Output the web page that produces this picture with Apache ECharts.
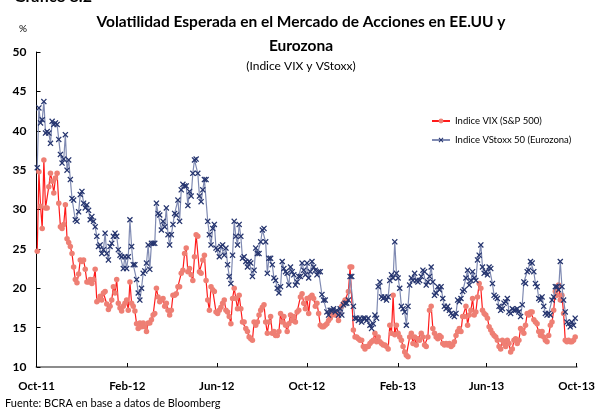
<!DOCTYPE html>
<html>
<head>
<meta charset="utf-8">
<script src="https://cdn.jsdelivr.net/npm/echarts@6/dist/echarts.min.js"></script>
<style>
  html, body { margin: 0; padding: 0; background: #fff; }
  #chart { width: 598px; height: 412px; }
</style>
</head>
<body>
<div id="chart"></div>
<script>
// readings taken off the chart every ~2.24 calendar days
const firstReading = Date.UTC(2011, 9, 2);
const readingStepDays = 2.24;

const seriesNames = ['Indice VIX (S&P 500)', 'Indice VStoxx 50 (Eurozona)'];

const vixValues = [
  24.7, 34.8, 30.4, 27.6, 36.3, 30.2, 30.2, 32.9, 34.6, 33.6,
  32.1, 34.0, 34.6, 30.8, 27.8, 27.6, 28.1, 30.6, 26.3, 25.8,
  25.3, 24.4, 22.7, 21.1, 20.7, 21.8, 23.6, 23.4, 23.6, 22.4,
  20.8, 20.8, 21.1, 20.6, 21.1, 22.4, 18.3, 18.5, 19.0, 18.5,
  19.4, 19.6, 18.0, 17.3, 17.7, 18.5, 20.2, 19.4, 21.1, 18.1,
  17.5, 17.1, 17.7, 18.1, 18.5, 17.2, 20.8, 18.1, 17.7, 17.1,
  15.5, 14.9, 15.6, 15.1, 15.6, 15.1, 14.5, 15.6, 15.6, 16.0,
  16.6, 16.8, 20.0, 18.9, 18.3, 18.5, 18.7, 17.7, 18.1, 17.2,
  16.6, 17.2, 19.1, 19.1, 19.3, 20.2, 20.2, 21.9, 22.3, 24.4,
  25.1, 22.1, 22.5, 21.7, 21.0, 24.0, 26.8, 26.6, 22.1, 21.9,
  23.6, 24.2, 21.0, 18.5, 17.2, 20.2, 19.8, 19.6, 17.0, 16.8,
  17.2, 17.6, 18.1, 18.5, 17.2, 17.0, 16.4, 15.5, 18.7, 20.0,
  18.7, 17.4, 19.1, 17.4, 15.7, 15.7, 14.9, 14.5, 13.8, 13.6,
  13.4, 15.7, 15.3, 15.7, 16.6, 17.2, 17.6, 17.9, 15.7, 14.3,
  15.7, 16.4, 14.3, 14.5, 14.0, 14.0, 14.5, 16.8, 15.7, 16.4,
  15.3, 14.5, 15.5, 16.6, 15.9, 16.4, 15.7, 17.0, 17.2, 18.9,
  19.3, 18.1, 17.4, 18.7, 16.8, 18.9, 19.1, 18.7, 17.7, 18.1,
  16.8, 15.3, 15.1, 15.1, 15.3, 15.5, 15.9, 16.2, 16.6, 16.8,
  16.6, 16.8, 15.9, 17.0, 17.7, 18.1, 18.5, 18.5, 19.6, 22.7,
  22.7, 14.7, 13.8, 13.8, 13.6, 13.4, 13.4, 12.6, 12.3, 12.6,
  12.6, 13.0, 13.2, 13.4, 14.3, 13.2, 13.8, 13.2, 13.0, 12.8,
  12.8, 12.6, 12.3, 15.3, 14.3, 19.1, 14.1, 15.3, 14.3, 13.8,
  13.4, 12.6, 11.9, 11.5, 11.3, 13.8, 14.3, 13.0, 13.8, 12.8,
  13.6, 13.4, 14.3, 13.8, 12.8, 12.6, 13.8, 17.2, 17.7, 14.9,
  14.3, 13.8, 13.6, 14.0, 13.8, 13.0, 12.8, 13.0, 12.8, 13.0,
  12.6, 12.8, 13.2, 14.0, 14.5, 14.9, 14.5, 16.4, 16.4, 17.7,
  15.3, 16.6, 17.2, 18.7, 16.6, 17.0, 18.9, 20.6, 20.0, 17.2,
  16.8, 16.6, 16.2, 15.1, 14.7, 14.3, 14.0, 13.8, 13.4, 12.6,
  12.3, 13.4, 13.0, 12.6, 13.4, 13.0, 11.9, 12.3, 13.4, 13.6,
  13.0, 13.4, 14.9, 14.7, 14.3, 15.3, 16.8, 16.6, 17.0, 17.0,
  16.0, 15.7, 15.5, 14.5, 14.0, 14.5, 13.8, 13.4, 13.2, 14.0,
  15.3, 15.7, 17.2, 19.6, 19.1, 20.4, 18.5, 19.1, 16.8, 13.4,
  13.2, 13.4, 13.2, 13.2, 13.4, 13.8
];

const vstoxxValues = [
  35.3, 42.9, 41.0, 41.4, 43.7, 39.7, 39.9, 39.7, 38.4, 41.2,
  40.8, 41.0, 40.8, 38.9, 37.0, 35.9, 36.4, 39.5, 35.0, 36.3,
  33.8, 31.4, 31.2, 28.7, 28.5, 29.7, 31.9, 32.3, 30.8, 30.2,
  30.6, 29.9, 28.7, 29.1, 28.5, 27.8, 26.6, 25.3, 25.5, 24.4,
  24.9, 27.0, 24.4, 23.6, 25.3, 25.7, 26.6, 27.0, 26.6, 24.9,
  24.2, 24.0, 22.5, 24.0, 22.5, 24.0, 28.7, 25.3, 23.0, 23.0,
  21.1, 19.4, 18.5, 20.0, 21.9, 22.2, 23.2, 25.5, 22.4, 25.7,
  25.7, 25.7, 30.8, 29.5, 29.3, 27.4, 28.5, 27.8, 30.2, 26.8,
  25.5, 26.8, 28.1, 29.5, 29.3, 31.2, 28.5, 32.5, 33.2, 33.0,
  33.0, 30.5, 32.3, 31.7, 34.6, 36.3, 36.4, 34.6, 31.7, 31.0,
  32.5, 33.8, 33.8, 28.5, 26.8, 25.5, 27.6, 28.1, 25.1, 24.9,
  24.0, 25.3, 25.5, 24.2, 25.1, 23.0, 21.5, 20.6, 24.2, 28.5,
  26.6, 25.5, 28.1, 26.6, 23.8, 24.0, 23.4, 22.7, 23.4, 23.2,
  21.5, 22.3, 25.1, 24.4, 24.4, 25.9, 27.4, 27.6, 25.9, 21.9,
  23.8, 23.8, 23.0, 21.3, 21.0, 20.0, 19.4, 20.2, 23.4, 22.5,
  22.1, 21.9, 20.4, 22.7, 22.1, 21.7, 20.4, 20.8, 21.5, 21.5,
  23.2, 22.3, 21.7, 23.2, 21.3, 22.1, 23.4, 22.7, 22.3, 21.7,
  22.1, 22.1, 19.2, 18.5, 18.5, 17.0, 16.6, 17.2, 17.2, 17.4,
  17.0, 17.2, 16.6, 17.4, 16.6, 17.9, 18.1, 18.1, 18.5, 21.5,
  21.5, 17.7, 16.2, 16.2, 15.9, 16.2, 15.7, 16.2, 16.2, 15.9,
  16.2, 15.3, 14.9, 15.5, 16.6, 16.2, 20.2, 20.8, 18.9, 18.7,
  18.9, 18.5, 18.9, 21.0, 21.7, 21.3, 25.9, 21.9, 21.3, 20.0,
  17.7, 17.4, 17.0, 15.3, 17.7, 20.4, 21.3, 21.0, 21.9, 21.0,
  20.8, 21.0, 21.5, 22.3, 22.1, 20.4, 20.8, 21.5, 22.7, 20.8,
  19.1, 19.4, 20.2, 19.8, 20.2, 18.7, 17.7, 17.4, 17.7, 17.2,
  16.8, 16.6, 16.4, 16.8, 18.5, 18.3, 18.7, 19.6, 19.8, 21.3,
  22.3, 20.4, 21.0, 22.1, 21.3, 21.0, 23.6, 24.2, 25.5, 22.7,
  21.9, 22.1, 21.7, 22.7, 22.5, 20.6, 19.1, 18.9, 18.7, 17.7,
  17.2, 17.4, 18.1, 18.3, 18.7, 17.0, 16.8, 17.4, 17.2, 17.2,
  17.4, 17.0, 16.4, 17.9, 20.8, 20.6, 22.1, 22.3, 23.4, 23.2,
  22.1, 20.6, 20.2, 18.7, 18.5, 18.9, 17.7, 16.8, 16.6, 16.8,
  16.6, 18.5, 18.9, 20.2, 20.2, 19.8, 23.4, 20.2, 18.5, 17.0,
  15.7, 15.5, 15.1, 15.7, 15.3, 16.2
];

const tickDates = ['2011-10-01', '2012-02-01', '2012-06-01', '2012-10-01', '2013-02-01', '2013-06-01', '2013-10-01'];
const tickLabels = ['Oct-11', 'Feb-12', 'Jun-12', 'Oct-12', 'Feb-13', 'Jun-13', 'Oct-13'];

const DAY = 86400000;
const tickTimes = tickDates.map(d => Date.parse(d + 'T00:00:00Z'));
const toPairs = vals => vals.map((v, i) => [firstReading + i * readingStepDays * DAY, v]);
const labelFor = v => {
    let i = tickTimes.findIndex(t => Math.abs(t - v) < DAY);
    return i >= 0 ? tickLabels[i] : '';
};

// Excel-like "x" marker
const crossMarker = 'path://M0,1.5L1.5,0L5,3.5L8.5,0L10,1.5L6.5,5L10,8.5L8.5,10L5,6.5L1.5,10L0,8.5L3.5,5Z';

let chart = echarts.init(document.getElementById('chart'));
let option = {
    animation: false,
    textStyle: { fontFamily: 'Lato' },
    title: {
        text: 'Volatilidad Esperada en el Mercado de Acciones en EE.UU y\nEurozona',
        subtext: '(Indice VIX y VStoxx)',
        left: 296,
        top: 5,
        textAlign: 'center',
        itemGap: 2,
        textStyle: { fontFamily: 'Lato', fontWeight: 'bold', fontSize: 15.5, lineHeight: 24, color: '#000' },
        subtextStyle: { fontFamily: 'Lato', fontSize: 12, color: '#000' }
    },
    graphic: [
        { type: 'text', left: 14, top: -11.5, style: { text: 'Gráfico 8.2', font: 'bold 16px Lato', fill: '#000' } },
        { type: 'text', left: 5, top: 398, style: { text: 'Fuente: BCRA en base a datos de Bloomberg', font: '11px Lato', fill: '#000' } }
    ],
    legend: {
        orient: 'vertical',
        left: 426,
        top: 111,
        itemGap: 9,
        itemWidth: 18,
        itemHeight: 6,
        textStyle: { fontFamily: 'Lato', fontSize: 9.5, color: '#000' },
        data: seriesNames
    },
    grid: { left: 36.5, right: 19, top: 52, bottom: 45 },
    xAxis: {
        type: 'value',
        min: tickTimes[0],
        max: tickTimes[tickTimes.length - 1],
        splitLine: { show: false },
        axisLine: { lineStyle: { color: '#8c8c8c', width: 2 } },
        axisTick: { inside: true, length: 4, lineStyle: { color: '#000' }, customValues: tickTimes },
        axisLabel: {
            customValues: tickTimes,
            formatter: labelFor,
            showMinLabel: true,
            showMaxLabel: true,
            hideOverlap: false,
            fontFamily: 'Lato',
            fontWeight: 'bold',
            fontSize: 11.5,
            color: '#000',
            margin: 13
        }
    },
    yAxis: {
        type: 'value',
        min: 10,
        max: 50,
        interval: 5,
        name: '%',
        nameLocation: 'end',
        nameGap: 18,
        nameTextStyle: { fontFamily: 'Lato', fontSize: 10, color: '#000', align: 'center', padding: [0, 27, 0, 0] },
        splitLine: { show: false },
        axisLine: { show: true, lineStyle: { color: '#000', width: 1 } },
        axisTick: { show: true, inside: true, length: 4, lineStyle: { color: '#000' } },
        axisLabel: { fontFamily: 'Lato', fontWeight: 'bold', fontSize: 12, color: '#000', margin: 10 }
    },
    series: [
        {
            name: seriesNames[0],
            type: 'line',
            data: toPairs(vixValues),
            symbol: 'circle',
            symbolSize: 5.5,
            lineStyle: { color: '#ff1a1a', width: 1.2 },
            itemStyle: { color: '#ee7f74' },
            emphasis: { disabled: true },
            z: 2
        },
        {
            name: seriesNames[1],
            type: 'line',
            data: toPairs(vstoxxValues),
            symbol: crossMarker,
            symbolSize: 6,
            lineStyle: { color: '#7f8ab2', width: 1.2 },
            itemStyle: { color: '#26356f' },
            emphasis: { disabled: true },
            z: 3
        }
    ]
};
option && chart.setOption(option);
</script>
</body>
</html>
